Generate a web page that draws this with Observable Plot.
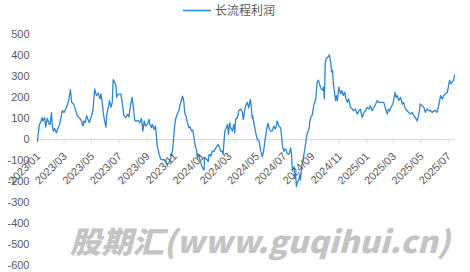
<!DOCTYPE html>
<html><head><meta charset="utf-8">
<script src="https://cdn.jsdelivr.net/npm/d3@7"></script>
<script src="https://cdn.jsdelivr.net/npm/@observablehq/plot@0.6"></script>
<style>
body{margin:0;background:#fff;}
#wrap{position:relative;width:470px;height:272px;overflow:hidden;font-family:"Liberation Sans",Arial,sans-serif;}
#legend{position:absolute;left:0;top:0;}
#chart{position:absolute;left:0;top:22px;}
#wm{position:absolute;left:0;top:0;pointer-events:none;}
</style></head><body>
<div id="wrap"><div id="chart"></div><svg id="legend" width="470" height="22"></svg><svg id="wm" width="470" height="272"></svg></div>
<script>
const seriesName = "长流程利润";
const startDate = "2023-01-01";
const endDate = "2025-07-15";
const dayOffsets = [0,4,7,10,12,16,18,22,26,28,31,33,35,38,42,46,49,52,55,59,63,67,70,73,76,80,83,87,89,92,96,101,103,106,109,112,115,120,123,127,131,135,139,141,145,146,149,152,154,158,160,163,166,168,171,174,176,177,181,185,189,192,196,200,203,207,210,213,216,220,223,227,231,234,237,240,244,248,249,253,255,259,262,265,266,270,274,278,281,285,288,292,296,300,302,305,307,311,314,316,318,322,323,325,327,329,331,333,336,339,342,345,347,351,353,355,356,359,360,364,367,370,371,373,376,379,381,383,385,388,392,396,401,403,407,410,412,414,416,418,422,424,427,429,433,436,438,440,444,447,451,455,457,460,462,466,469,472,473,477,478,481,484,487,489,492,493,495,497,499,501,503,506,509,512,515,518,521,525,528,530,532,535,538,540,542,544,547,550,552,554,558,560,562,564,566,568,570,571,573,575,577,580,583,584,586,587,589,591,594,596,599,603,605,608,610,611,614,616,618,621,624,627,630,633,635,637,639,641,644,648,651,653,655,657,660,662,664,666,669,673,676,679,682,685,688,691,695,699,702,706,710,714,717,721,725,728,732,736,739,743,747,751,754,758,762,765,769,773,777,779,782,785,789,792,794,796,799,802,806,810,813,817,821,824,828,832,836,839,843,847,850,854,858,861,865,869,873,876,880,884,887,890,893,895,899,902,906,910,913,915,918,921,924,926];
const profit = [-8,72,80,104,88,104,59,100,72,72,128,64,40,53,32,56,72,104,137,129,145,169,193,237,177,169,153,121,113,104,96,64,88,80,113,96,80,113,137,241,209,220,193,217,153,129,88,59,121,161,185,153,177,285,274,258,201,209,217,217,161,113,104,120,108,169,201,153,91,88,91,80,100,40,88,64,72,96,75,56,72,48,64,-8,-30,-70,-95,-97,-95,-100,-121,-110,-89,-50,0,72,100,125,137,161,175,206,200,180,125,120,96,80,56,60,40,45,15,-40,-45,-88,-81,-75,-90,-121,-137,-145,-85,-89,-95,-105,-72,-72,-80,-56,-56,-40,-24,-32,-56,-56,-72,-16,40,48,72,24,80,56,40,72,32,96,104,137,145,129,96,137,161,177,150,185,190,100,113,70,40,8,0,-8,-20,-48,-64,-81,-70,-40,8,50,78,48,40,40,64,50,60,88,70,60,56,16,-32,-56,-45,-48,-65,-72,-60,-40,-70,-145,-137,-130,-185,-165,-225,-201,-193,-165,-193,-145,-121,-110,-81,-40,-8,30,50,88,113,115,129,169,177,193,274,282,258,241,235,250,193,362,386,390,403,370,322,330,266,217,185,209,185,249,217,233,209,225,193,177,193,153,145,137,145,121,137,145,104,129,137,153,145,161,137,153,169,185,177,177,177,177,145,121,145,137,153,169,201,225,201,209,185,201,169,177,145,137,129,121,129,113,104,88,121,169,161,153,129,145,137,137,129,137,137,129,153,185,209,193,209,217,225,257,282,266,274,282,306];
const yTicks = [500,400,300,200,100,0,-100,-200,-300,-400,-500,-600];
const xTickLabels = ["2023/01","2023/03","2023/05","2023/07","2023/09","2023/11","2024/01","2024/03","2024/05","2024/07","2024/09","2024/11","2025/01","2025/03","2025/05","2025/07"];
const watermark = "股期汇(www.guqihui.cn)";

const lineColor = "#2f86d0";
const textColor = "#595959";
const start = new Date(startDate + "T00:00:00Z");
const n = Math.min(dayOffsets.length, profit.length);
const data = d3.range(n).map(i => ({date: d3.utcDay.offset(start, dayOffsets[i]), value: profit[i]}));
const xTicks = xTickLabels.map(s => ({label: s, date: new Date(s.replace("/", "-") + "-01T00:00:00Z")}));

const chart = Plot.plot({
  width: 470,
  height: 250,
  marginLeft: 37,
  marginRight: 16,
  marginTop: 12,
  marginBottom: 7,
  style: {fontFamily: '"Liberation Sans", Arial, sans-serif', fontSize: "11px", background: "transparent"},
  x: {type: "utc", domain: [start, new Date(endDate + "T00:00:00Z")], axis: null},
  y: {domain: [-600, 500], axis: null},
  marks: [
    Plot.ruleY([0], {stroke: "#d9d9d9", strokeWidth: 1}),
    Plot.ruleX(xTicks, {x: "date", y1: 0, y2: -20, stroke: "#d9d9d9"}),
    Plot.text(yTicks, {y: d => d, text: d => String(d), frameAnchor: "left", textAnchor: "end", dx: -8, fill: textColor, fontSize: 11}),
    Plot.line(data, {x: "date", y: "value", stroke: lineColor, strokeWidth: 1.3, strokeLinejoin: "round"}),
    Plot.text(xTicks, {x: "date", y: 0, text: "label", rotate: -45, textAnchor: "end", dx: 1, dy: 15, fill: textColor, fontSize: 11})
  ]
});
document.getElementById("chart").appendChild(chart);

const ns = "http://www.w3.org/2000/svg";
const leg = document.getElementById("legend");
const ln = document.createElementNS(ns, "line");
ln.setAttribute("x1", 183); ln.setAttribute("x2", 211); ln.setAttribute("y1", 10.5); ln.setAttribute("y2", 10.5);
ln.setAttribute("stroke", lineColor); ln.setAttribute("stroke-width", 1.5);
leg.appendChild(ln);
const lt = document.createElementNS(ns, "text");
lt.setAttribute("x", 215); lt.setAttribute("y", 15);
lt.setAttribute("font-family", '"Noto Sans CJK SC", sans-serif'); lt.setAttribute("font-size", 12);
lt.setAttribute("fill", textColor);
lt.textContent = seriesName;
leg.appendChild(lt);

const wm = document.getElementById("wm");
const wt = document.createElementNS(ns, "text");
wt.setAttribute("x", 70); wt.setAttribute("y", 253);
wt.setAttribute("font-family", '"Noto Sans CJK SC", "DejaVu Sans", sans-serif');
wt.setAttribute("font-size", 30); wt.setAttribute("font-weight", "900"); wt.setAttribute("font-style", "italic");
wt.setAttribute("fill", "#c4c4c4");
wt.setAttribute("textLength", 380); wt.setAttribute("lengthAdjust", "spacingAndGlyphs");
wt.textContent = watermark;
wm.appendChild(wt);
</script>
</body></html>
